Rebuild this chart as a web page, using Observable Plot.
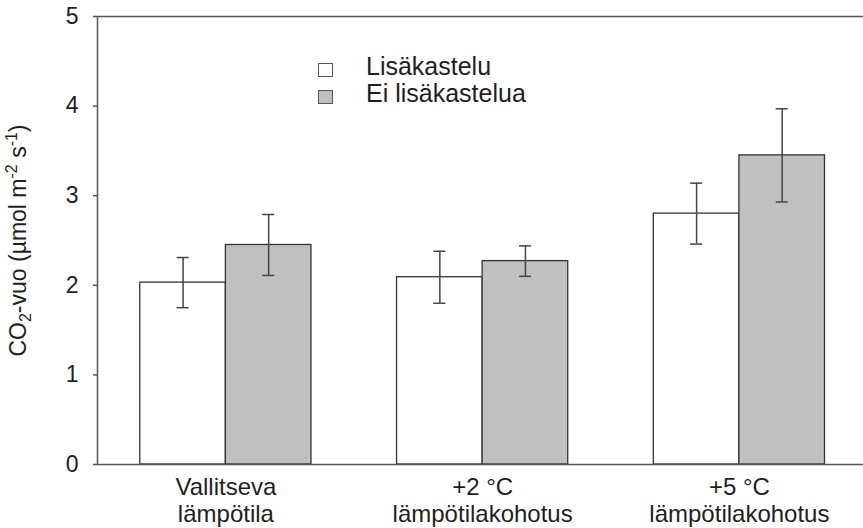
<!DOCTYPE html>
<html>
<head>
<meta charset="utf-8">
<script src="https://cdn.jsdelivr.net/npm/d3@7"></script>
<script src="https://cdn.jsdelivr.net/npm/@observablehq/plot@0.6"></script>
<style>
  body { margin: 0; background: #fff; }
  #wrap { position: relative; width: 863px; height: 528px; font-family: "Liberation Sans", Arial, sans-serif; }
  #legend { position: absolute; left: 318px; top: 56px; color: #1e1e1e; font-size: 25px; }
  .row { display: flex; align-items: center; height: 27px; }
  .sw { width: 13px; height: 12px; border: 1.5px solid #555; margin-right: 33px; box-sizing: content-box; }
  .lab { position: relative; top: -3px; white-space: nowrap; }
</style>
</head>
<body>
<div id="wrap"></div>
<script>
// ---- data ----
const groups = ["Vallitseva\nlämpötila", "+2 °C\nlämpötilakohotus", "+5 °C\nlämpötilakohotus"];
const seriesNames = ["Lisäkastelu", "Ei lisäkastelua"];
const seriesColors = ["#ffffff", "#c0c0c0"];
const lisakastelu = [2.03, 2.09, 2.80];
const eiLisakastelua = [2.45, 2.27, 3.45];
const errLisakastelu = [0.28, 0.29, 0.34];
const errEiLisakastelua = [0.34, 0.17, 0.52];
const yTicks = [0, 1, 2, 3, 4, 5];
const yLabel = "CO2-vuo (µmol m-2 s-1)";

// ---- build table ----
const values = [lisakastelu, eiLisakastelua];
const errors = [errLisakastelu, errEiLisakastelua];
const rows = [];
groups.forEach((g, gi) => {
  seriesNames.forEach((s, si) => {
    const v = values[si][gi], e = errors[si][gi];
    rows.push({group: g, series: s, gi, si, value: v, lo: v - e, hi: v + e,
      x1: gi * 3 + si, x2: gi * 3 + si + 1, xc: gi * 3 + si + 0.5});
  });
});
const groupRows = groups.map((g, gi) => ({group: g, xc: gi * 3 + 1}));
const xDomain = [-0.5, groups.length * 3 - 0.55];
const capHalf = 0.07;

const plot = Plot.plot({
  width: 863,
  height: 528,
  marginTop: 16,
  marginBottom: 64,
  marginLeft: 97,
  marginRight: 0,
  style: {fontFamily: "'Liberation Sans', Arial, sans-serif", color: "#1e1e1e", background: "#fff"},
  x: {type: "linear", domain: xDomain, axis: null},
  y: {domain: [0, 5]},
  color: {domain: seriesNames, range: seriesColors},
  marks: [
    Plot.rect(rows, {x1: "x1", x2: "x2", y1: 0, y2: "value", fill: "series", stroke: "#333", strokeWidth: 1.3}),
    Plot.ruleX(rows, {x: "xc", y1: "lo", y2: "hi", stroke: "#444", strokeWidth: 1.5}),
    Plot.ruleY(rows, {y: "hi", x1: d => d.xc - capHalf, x2: d => d.xc + capHalf, stroke: "#444", strokeWidth: 1.5}),
    Plot.ruleY(rows, {y: "lo", x1: d => d.xc - capHalf, x2: d => d.xc + capHalf, stroke: "#444", strokeWidth: 1.5}),
    Plot.ruleY([yTicks[0], yTicks[yTicks.length - 1]], {stroke: "#555", strokeWidth: 1.5}),
    Plot.ruleX([xDomain[0]], {stroke: "#555", strokeWidth: 1.5}),
    Plot.axisY({ticks: yTicks, tickFormat: d3.format("d"), tickSize: 4, tickPadding: 15, fontSize: 23, stroke: "#555", strokeWidth: 1.5, fill: "#1e1e1e",
      label: yLabel, labelAnchor: "center", labelOffset: 88, labelArrow: "none"}),
    Plot.text(groupRows, {x: "xc", text: "group", frameAnchor: "bottom", dy: 12, lineAnchor: "top", fontSize: 24, lineHeight: 1.1, fill: "#1e1e1e"})
  ]
});

// rich label with sub/superscripts
const ns = "http://www.w3.org/2000/svg";
plot.querySelectorAll("text").forEach(t => {
  if (t.textContent === yLabel) {
    t.textContent = "";
    t.setAttribute("font-size", "23");
    const parts = [
      ["CO", 0, null], ["2", 5, "16"], ["-vuo (µmol m", -5, null], ["-2", -9, "16"], [" s", 9, null], ["-1", -9, "16"], [")", 9, null]
    ];
    parts.forEach(([txt, dy, fs]) => {
      const sp = document.createElementNS(ns, "tspan");
      sp.textContent = txt;
      if (dy) sp.setAttribute("dy", dy);
      if (fs) sp.setAttribute("font-size", fs);
      t.appendChild(sp);
    });
  }
});

const wrap = document.getElementById("wrap");
wrap.appendChild(plot);

const legend = document.createElement("div");
legend.id = "legend";
seriesNames.forEach((s, i) => {
  const row = document.createElement("div");
  row.className = "row";
  const sw = document.createElement("div");
  sw.className = "sw";
  sw.style.background = seriesColors[i];
  const lab = document.createElement("span");
  lab.className = "lab";
  lab.textContent = s;
  row.appendChild(sw);
  row.appendChild(lab);
  legend.appendChild(row);
});
wrap.appendChild(legend);
</script>
</body>
</html>
